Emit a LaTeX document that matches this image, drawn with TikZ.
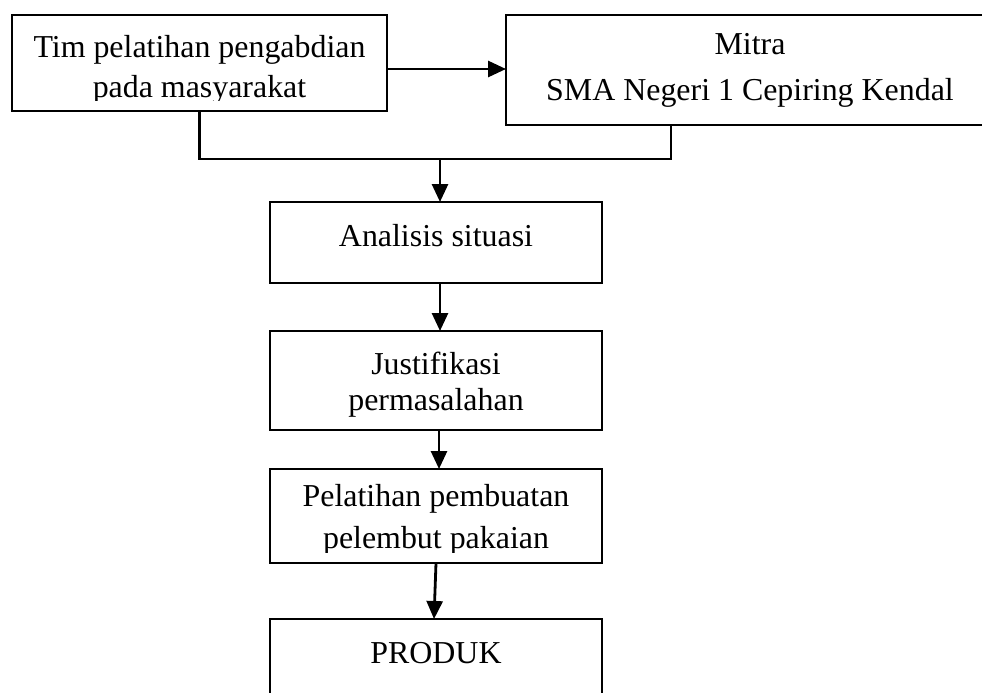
\documentclass[tikz,border=0pt]{standalone}
\usepackage{fontspec}
\setmainfont{Liberation Serif}
\usetikzlibrary{arrows.meta}
\begin{document}
\begin{tikzpicture}[x=1pt,y=-1pt,
  box/.style={draw,line width=2.3pt,inner sep=0pt,outer sep=0pt},
  txt/.style={anchor=base,inner sep=0pt,font=\fontsize{31.9}{35}\selectfont},
  conn/.style={line width=2.3pt},
  arr/.style={line width=2.8pt,-{Triangle[length=18pt,width=16pt]}}]
\clip (0,0) rectangle (982,693);
% boxes
\node[box,minimum width=375pt,minimum height=96pt] (tim) at (199.5,63) {};
\node[box,minimum width=488pt,minimum height=110pt] (mitra) at (750,70) {};
\node[box,minimum width=332pt,minimum height=81pt] (analisis) at (436,242.5) {};
\node[box,minimum width=332pt,minimum height=99pt] (justi) at (436,380.5) {};
\node[box,minimum width=332pt,minimum height=94pt] (pelat) at (436,516) {};
\node[box,minimum width=332pt,minimum height=101pt] (produk) at (436,669.5) {};
% texts
\begin{scope}
\clip (12,15) rectangle (387,100);
\node[txt] (t1a) at (199.5,57) {Tim pelatihan pengabdian};
\node[txt] (t1b) at (199.5,97) {pada masyarakat};
\end{scope}
\node[txt] (t2a) at (750,55) {Mitra};
\node[txt] (t2b) at (750,100) {SMA Negeri 1 Cepiring Kendal};
\node[txt] (t3) at (436,246) {Analisis situasi};
\node[txt] (t4a) at (436,374) {Justifikasi};
\node[txt] (t4b) at (436,410) {permasalahan};
\begin{scope}
\clip (270,469) rectangle (602,552);
\node[txt] (t5a) at (436,506) {Pelatihan pembuatan};
\node[txt] (t5b) at (436,548) {pelembut pakaian};
\end{scope}
\node[txt] (t6) at (436,663) {PRODUK};
% connectors
\coordinate (a1) at ([yshift=-6pt]tim.east);
\draw[arr] (a1) -- (a1 -| mitra.west);
\coordinate (j) at (440,159);
\coordinate (mj) at (671,125);
\draw[conn] (tim.south) |- (mj |- j) -- (mj);
\draw[arr] (j) -- (j |- analisis.north);
\draw[arr] ([xshift=4pt]analisis.south) -- ([xshift=4pt]justi.north);
\draw[arr] ([xshift=3pt]justi.south) -- ([xshift=3pt]pelat.north);
\draw[arr] ([xshift=0pt]pelat.south) -- ([xshift=-2pt]produk.north);
\end{tikzpicture}
\end{document}
